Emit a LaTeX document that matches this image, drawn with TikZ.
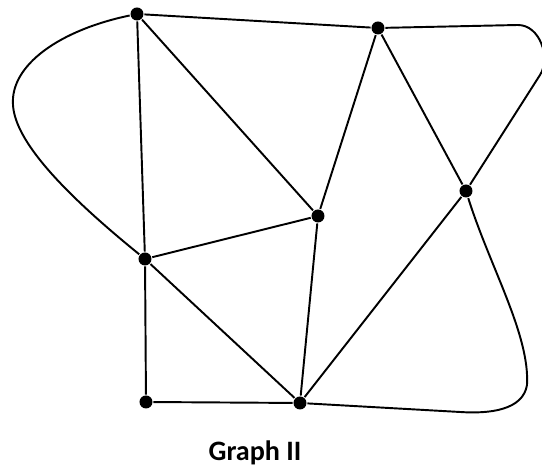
\documentclass[tikz,border=0pt]{standalone}
\usepackage{fontspec}
\setmainfont{Carlito}
\usepackage{tikz}
\usetikzlibrary{positioning}
\tikzset{vtx/.style={circle,fill=black,inner sep=0pt,minimum size=0.26cm}}

\begin{document}
\begin{tikzpicture}[line width=1.1pt,line join=round]
  \useasboundingbox (0,0) rectangle (10.84,9.42);
  % vertices
  \node[vtx] (a) at (2.74,9.14) {};
  \node[vtx] (b) at (7.56,8.86) {};
  \node[vtx] (c) at (9.32,5.60) {};
  \node[vtx] (d) at (6.36,5.10) {};
  \node[vtx] (e) at (2.90,4.24) {};
  \node[vtx] (f) at (2.92,1.38) {};
  \node[vtx] (g) at (6.00,1.36) {};
  % edges
  \draw (a) -- (b);
  \draw (a) -- (e);
  \draw (a) -- (d);
  \draw (b) -- (d);
  \draw (b) -- (c);
  \draw (e) -- (d);
  \draw (e) -- (g);
  \draw (e) -- (f);
  \draw (f) -- (g);
  \draw (d) -- (g);
  \draw (c) -- (g);
  % outer curves
  \draw (a) .. controls (1.20,8.82) and (0.20,8.12) .. (0.26,7.32)
            .. controls (0.30,6.62) and (1.20,5.62) .. (e);
  \draw (b) -- (10.36,8.92) .. controls (10.80,8.92) and (11.02,8.26) .. (10.80,7.92) -- (c);
  \draw (c) .. controls (9.80,4.08) and (10.60,2.72) .. (10.54,1.72)
            .. controls (10.46,1.22) and (9.80,1.14) .. (9.20,1.18) -- (g);
  % label
  \node[font=\fontsize{16}{18}\selectfont\bfseries] (title) at (5.10,0.36) {Graph II};
\end{tikzpicture}
\end{document}
